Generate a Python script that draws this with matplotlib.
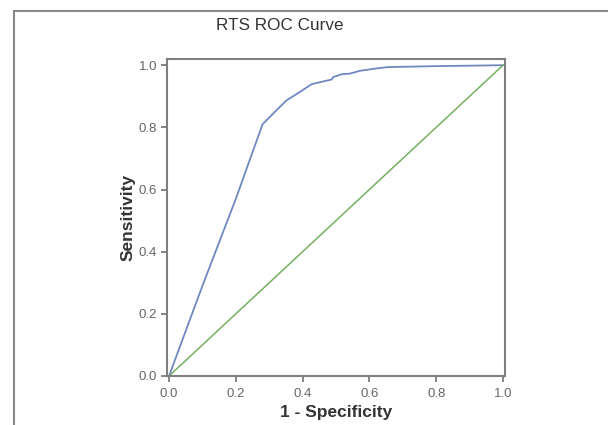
import matplotlib.pyplot as plt
from matplotlib.patches import Rectangle

# ROC points
fpr = [0.0, 0.10, 0.20, 0.28, 0.317, 0.352, 0.392, 0.427, 0.487, 0.492,
       0.517, 0.542, 0.572, 0.617, 0.656, 0.80, 1.0]
tpr = [0.0, 0.29, 0.57, 0.81, 0.85, 0.887, 0.914, 0.939, 0.954, 0.962,
       0.971, 0.973, 0.982, 0.989, 0.994, 0.997, 1.0]
ref = [0.0, 1.0]

plt.rcParams['font.family'] = ['Liberation Sans', 'DejaVu Sans']

fig = plt.figure(figsize=(6.08, 4.25), dpi=100)
ax = fig.add_axes([0.2747, 0.1153, 0.5559, 0.7459])

# outer frame (only left/top visible in the reference)
fig.patches.append(Rectangle((14 / 608, -0.1), 1.2, 1 - 11 / 425 + 0.1,
                             transform=fig.transFigure, fill=False,
                             edgecolor='#8a8a8a', linewidth=1.5))

ax.plot(fpr, tpr, color='#7088c0', linewidth=1.3)
ax.plot(ref, ref, color='#74b062', linewidth=1.1)

ax.set_xlim(-0.006, 1.006)
ax.set_ylim(0, 1.02)
ticks = [0.0, 0.2, 0.4, 0.6, 0.8, 1.0]
ax.set_xticks(ticks)
ax.set_yticks(ticks)
ax.set_xticklabels([f'{t:.1f}' for t in ticks])
ax.set_yticklabels([f'{t:.1f}' for t in ticks])
ax.tick_params(direction='out', length=4.5, width=1.2, color='#707070',
               labelcolor='#666666', labelsize=9.5)
ax.tick_params(axis='x', pad=4)
ax.tick_params(axis='y', pad=2.5)
for s in ax.spines.values():
    s.set_color('#808080')
    s.set_linewidth(1.5)

ax.set_xlabel('1 - Specificity', fontsize=12.5, fontweight='bold',
              color='#333333', labelpad=4)
ax.set_ylabel('Sensitivity', fontsize=12.5, fontweight='bold',
              color='#333333', labelpad=2)
fig.text(280 / 608, 1 - 25 / 425, 'RTS ROC Curve', ha='center', va='center',
         fontsize=12.3, color='#333333', fontweight='medium')

fig.savefig('out.png', dpi=100, facecolor='white')
